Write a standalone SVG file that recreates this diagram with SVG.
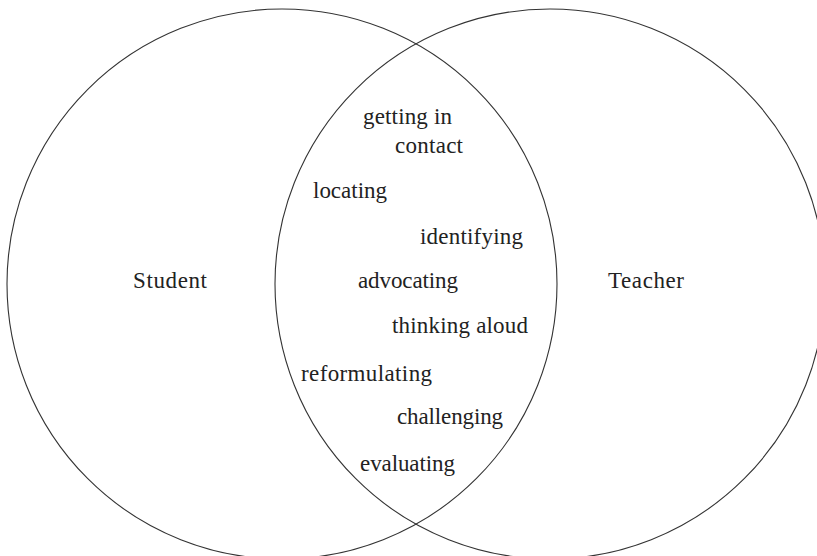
<svg xmlns="http://www.w3.org/2000/svg" width="817" height="556" viewBox="0 0 817 556">
  <style>
    .ring { fill: none; stroke: #333; stroke-width: 1.1; }
    .lbl { font-family: "Liberation Serif", "Times New Roman", serif; font-size: 23px; fill: #222; }
  </style>
  <rect width="817" height="556" fill="#fff"/>
  <g id="student">
    <circle class="ring" cx="282" cy="284" r="275"/>
    <text class="lbl" x="133" y="288" textLength="74" lengthAdjust="spacing">Student</text>
  </g>
  <g id="teacher">
    <circle class="ring" cx="550" cy="284" r="275"/>
    <text class="lbl" x="608" y="288" textLength="76" lengthAdjust="spacing">Teacher</text>
  </g>
  <g id="connectors"></g>
  <g id="overlap">
    <g id="getting-in-contact">
      <text class="lbl" x="363" y="124" textLength="89" lengthAdjust="spacing">getting in</text>
      <text class="lbl" x="395" y="153" textLength="68" lengthAdjust="spacing">contact</text>
    </g>
    <g id="locating"><text class="lbl" x="313" y="198" textLength="74" lengthAdjust="spacing">locating</text></g>
    <g id="identifying"><text class="lbl" x="420" y="244" textLength="103" lengthAdjust="spacing">identifying</text></g>
    <g id="advocating"><text class="lbl" x="358" y="288" textLength="100" lengthAdjust="spacing">advocating</text></g>
    <g id="thinking-aloud"><text class="lbl" x="392" y="333" textLength="136" lengthAdjust="spacing">thinking aloud</text></g>
    <g id="reformulating"><text class="lbl" x="301" y="381" textLength="131" lengthAdjust="spacing">reformulating</text></g>
    <g id="challenging"><text class="lbl" x="397" y="424" textLength="106" lengthAdjust="spacing">challenging</text></g>
    <g id="evaluating"><text class="lbl" x="360" y="471" textLength="95" lengthAdjust="spacing">evaluating</text></g>
  </g>
</svg>
